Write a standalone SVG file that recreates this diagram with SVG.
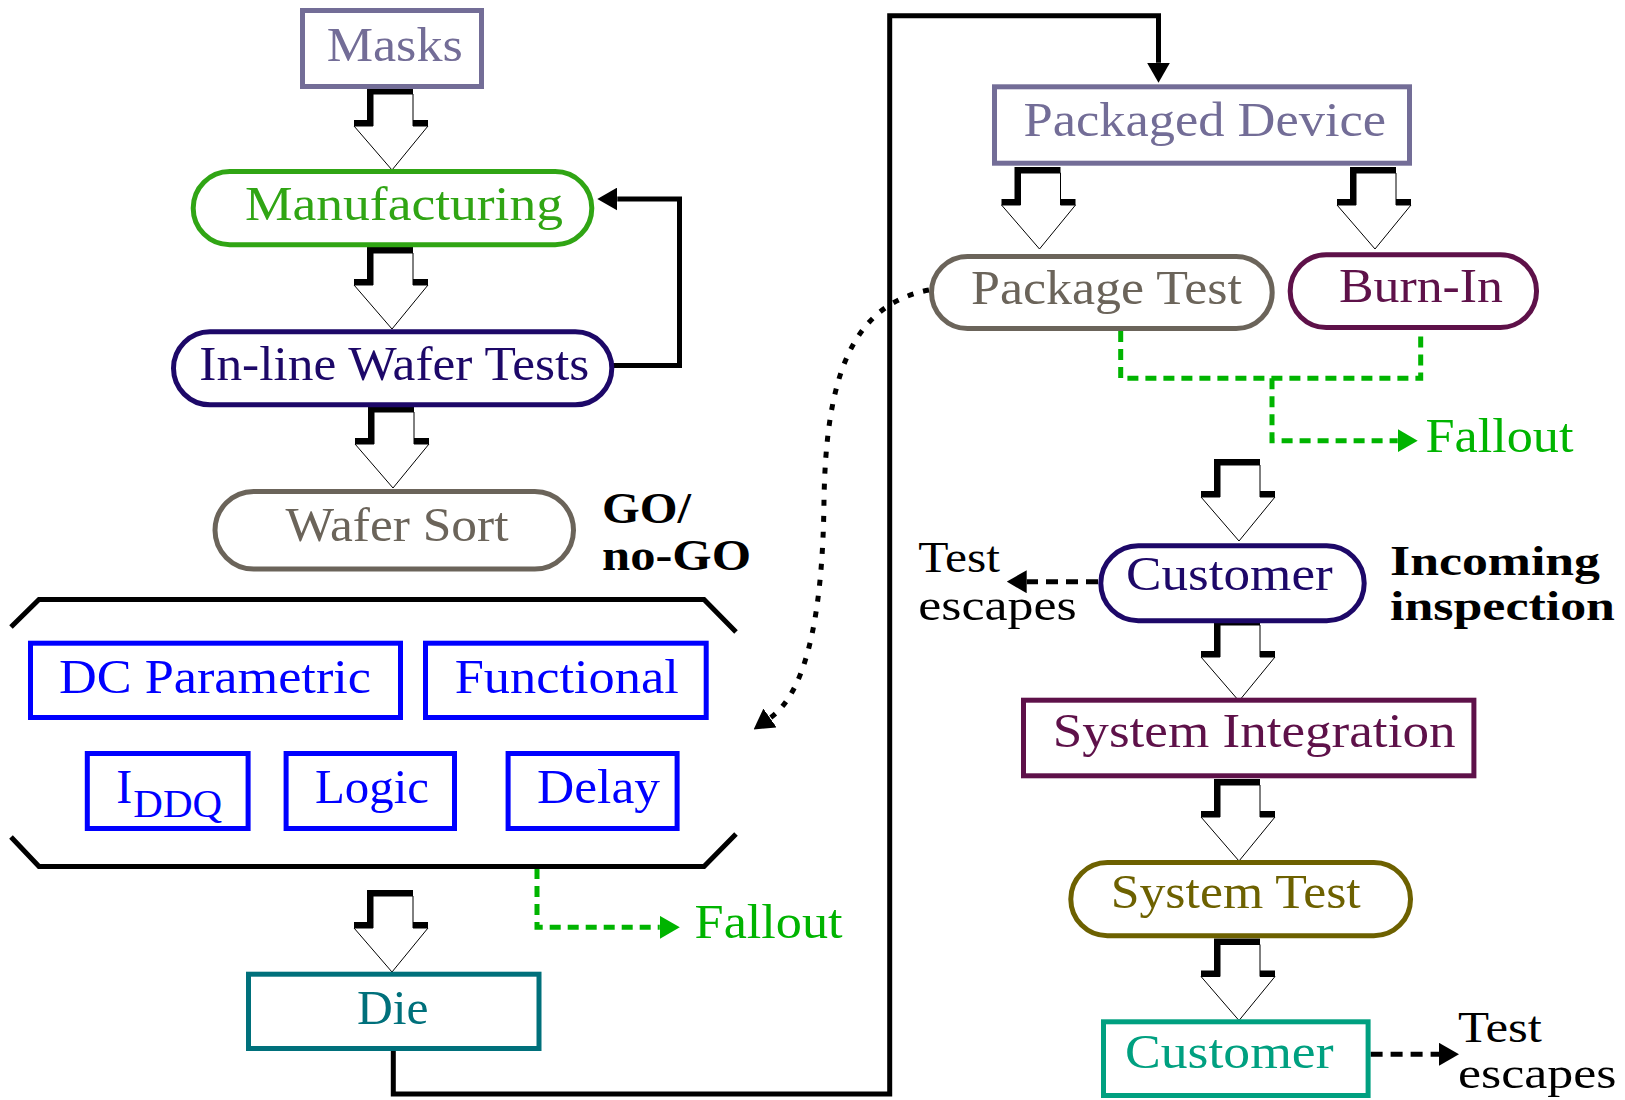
<svg xmlns="http://www.w3.org/2000/svg" xmlns:xlink="http://www.w3.org/1999/xlink" width="1625" height="1100" viewBox="0 0 1625 1100">
<style>
.box{fill:#fff;stroke-width:5}
.t{font-family:"Liberation Serif","Times New Roman",serif;font-size:48px}
.s{font-size:45px}
.s2{font-size:42px}
.b{font-weight:bold;fill:#000}
.conn{fill:none;stroke:#000;stroke-width:5}
.gd{fill:none;stroke:#00b400;stroke-width:5;stroke-dasharray:11 7}
.kd{fill:none;stroke:#000;stroke-width:5;stroke-dasharray:12 8}
.dot{fill:none;stroke:#000;stroke-width:5;stroke-dasharray:6 10}
.c1{stroke:#736d97}.f1{fill:#736d97}
.c2{stroke:#30a514}.f2{fill:#30a514}
.c3{stroke:#1d0868}.f3{fill:#1d0868}
.c4{stroke:#6b645a}.f4{fill:#6b645a}
.c5{stroke:#0000ff}.f5{fill:#0000ff}
.c6{stroke:#00707b}.f6{fill:#00707b}
.c7{stroke:#5e1149}.f7{fill:#5e1149}
.c8{stroke:#6d6100}.f8{fill:#6d6100}
.c9{stroke:#00a080}.f9{fill:#00a080}
.fg{fill:#00b400}
</style>
<defs>
<marker id="ahk" viewBox="0 0 20 23" refX="0" refY="11.5" markerWidth="20" markerHeight="23" markerUnits="userSpaceOnUse" orient="auto"><path d="M0,0 L20,11.5 L0,23 Z" fill="#000"/></marker>
<marker id="ahg" viewBox="0 0 20 23" refX="0" refY="11.5" markerWidth="20" markerHeight="23" markerUnits="userSpaceOnUse" orient="auto"><path d="M0,0 L20,11.5 L0,23 Z" fill="#00b400"/></marker>
<g id="bigarrow">
<path d="M-18,6 H22 V38 H37 L1,82 L-37,38 H-18 Z" fill="#fff" stroke="#000" stroke-width="1"/>
<path d="M-37,35 H-21 V3 H22" fill="none" stroke="#000" stroke-width="6"/>
<path d="M22,35 H37" fill="none" stroke="#000" stroke-width="6"/>
</g>
</defs>
<rect width="1625" height="1100" fill="#fff"/>

<g id="connectors">
<use xlink:href="#bigarrow" x="391" y="88"/>
<use xlink:href="#bigarrow" x="391" y="247"/>
<use xlink:href="#bigarrow" x="392" y="406"/>
<use xlink:href="#bigarrow" x="391" y="890"/>
<use xlink:href="#bigarrow" x="1038.5" y="167"/>
<use xlink:href="#bigarrow" x="1374" y="167"/>
<use xlink:href="#bigarrow" x="1238" y="459"/>
<use xlink:href="#bigarrow" x="1238" y="619"/>
<use xlink:href="#bigarrow" x="1238" y="779"/>
<use xlink:href="#bigarrow" x="1238" y="938.5"/>
<path class="conn" d="M610,365.5 H679.5 V199 H617.3" marker-end="url(#ahk)"/>
<path class="conn" d="M393.3,1051 V1094 H889.7 V15.7 H1158.5 V62.7" marker-end="url(#ahk)"/>
<path class="dot" d="M929,290 C850,305 826,380 824,500 C823,600 810,690 770,718" marker-end="url(#ahk)"/>
<path class="gd" d="M537,868 V927.3 H659.8" marker-end="url(#ahg)"/>
<path class="gd" d="M1120.7,331 V378.3 H1420.7 V330"/>
<path class="gd" d="M1272,378.3 V440.7 H1397.7" marker-end="url(#ahg)"/>
<path class="kd" d="M1098,581.7 H1026.7" marker-end="url(#ahk)"/>
<path class="kd" d="M1370.6,1054.3 H1439" marker-end="url(#ahk)"/>
</g>

<g id="masks">
<rect class="box c1" x="302.5" y="10.5" width="179" height="76"/>
<text class="t f1" x="326.7" y="61" textLength="136" lengthAdjust="spacingAndGlyphs">Masks</text>
</g>
<g id="manufacturing">
<rect class="box c2" x="193.2" y="171.5" width="398.6" height="73.3" rx="36.6"/>
<text class="t f2" x="245" y="220" textLength="318" lengthAdjust="spacingAndGlyphs">Manufacturing</text>
</g>
<g id="inline-wafer-tests">
<rect class="box c3" x="173.5" y="331.8" width="438.3" height="73" rx="36.5"/>
<text class="t f3" x="199.3" y="380" textLength="390" lengthAdjust="spacingAndGlyphs">In-line Wafer Tests</text>
</g>
<g id="wafer-sort">
<rect class="box c4" x="215" y="491.5" width="358.5" height="77.5" rx="38.7"/>
<text class="t f4" x="285.5" y="541" textLength="223" lengthAdjust="spacingAndGlyphs">Wafer Sort</text>
</g>
<g id="go-nogo-label">
<text class="t s b" x="602" y="523.3" textLength="89" lengthAdjust="spacingAndGlyphs">GO/</text>
<text class="t s b" x="602" y="570" textLength="149" lengthAdjust="spacingAndGlyphs">no-GO</text>
</g>
<g id="wafer-tests">
<path class="conn" d="M11,627 L39,599.5 H704 L736,632"/>
<path class="conn" d="M11,837 L39,866.5 H704 L736,834"/>
<g id="dc-parametric">
<rect class="box c5" x="30.5" y="643.2" width="370" height="74.3"/>
<text class="t f5" x="59" y="692.7" textLength="312" lengthAdjust="spacingAndGlyphs">DC Parametric</text>
</g>
<g id="functional">
<rect class="box c5" x="425.5" y="643.2" width="280.7" height="74.3"/>
<text class="t f5" x="454.7" y="692.7" textLength="224" lengthAdjust="spacingAndGlyphs">Functional</text>
</g>
<g id="iddq">
<rect class="box c5" x="87.3" y="753.5" width="160.8" height="75"/>
<text class="t f5" x="116.3" y="803.3">I<tspan x="133.3" y="816.7" font-size="41">DDQ</tspan></text>
</g>
<g id="logic">
<rect class="box c5" x="286.1" y="753.5" width="168.4" height="75"/>
<text class="t f5" x="315" y="803.3" textLength="114" lengthAdjust="spacingAndGlyphs">Logic</text>
</g>
<g id="delay">
<rect class="box c5" x="508.1" y="753.5" width="169" height="75"/>
<text class="t f5" x="537" y="803.3" textLength="123" lengthAdjust="spacingAndGlyphs">Delay</text>
</g>
</g>
<g id="fallout-1">
<text class="t fg" x="694.6" y="938.3" textLength="148" lengthAdjust="spacingAndGlyphs">Fallout</text>
</g>
<g id="die">
<rect class="box c6" x="248.5" y="974.2" width="290.5" height="74.3"/>
<text class="t f6" x="357" y="1024.3" textLength="71.6" lengthAdjust="spacingAndGlyphs">Die</text>
</g>
<g id="packaged-device">
<rect class="box c1" x="994.5" y="86.8" width="415" height="76.4"/>
<text class="t f1" x="1023.5" y="136" textLength="362.5" lengthAdjust="spacingAndGlyphs">Packaged Device</text>
</g>
<g id="package-test">
<rect class="box c4" x="931.5" y="256.5" width="340.7" height="72" rx="36"/>
<text class="t f4" x="971" y="304" textLength="271" lengthAdjust="spacingAndGlyphs">Package Test</text>
</g>
<g id="burn-in">
<rect class="box c7" x="1290.2" y="254.8" width="246.3" height="72.7" rx="36"/>
<text class="t f7" x="1339" y="302.3" textLength="164" lengthAdjust="spacingAndGlyphs">Burn-In</text>
</g>
<g id="fallout-2">
<text class="t fg" x="1425.5" y="452" textLength="148" lengthAdjust="spacingAndGlyphs">Fallout</text>
</g>
<g id="test-escapes-1">
<text class="t s" x="918.3" y="571.7" textLength="81.7" lengthAdjust="spacingAndGlyphs">Test</text>
<text class="t s" x="918.3" y="620" textLength="158.4" lengthAdjust="spacingAndGlyphs">escapes</text>
</g>
<g id="customer-1">
<rect class="box c3" x="1100.8" y="545.8" width="263.4" height="75" rx="37.5"/>
<text class="t f3" x="1126" y="590" textLength="206.7" lengthAdjust="spacingAndGlyphs">Customer</text>
</g>
<g id="incoming-inspection-label">
<text class="t s2 b" x="1390" y="575" textLength="210" lengthAdjust="spacingAndGlyphs">Incoming</text>
<text class="t s2 b" x="1390" y="620" textLength="225" lengthAdjust="spacingAndGlyphs">inspection</text>
</g>
<g id="system-integration">
<rect class="box c7" x="1023.5" y="700.2" width="450.4" height="75.6"/>
<text class="t f7" x="1052.8" y="746.7" textLength="402.7" lengthAdjust="spacingAndGlyphs">System Integration</text>
</g>
<g id="system-test">
<rect class="box c8" x="1070.8" y="862.5" width="339.7" height="73.3" rx="36.6"/>
<text class="t f8" x="1110.7" y="908.3" textLength="250" lengthAdjust="spacingAndGlyphs">System Test</text>
</g>
<g id="customer-2">
<rect class="box c9" x="1103.5" y="1021.8" width="264.6" height="73.7"/>
<text class="t f9" x="1125" y="1068.3" textLength="208.5" lengthAdjust="spacingAndGlyphs">Customer</text>
</g>
<g id="test-escapes-2">
<text class="t s" x="1458" y="1041.7" textLength="84" lengthAdjust="spacingAndGlyphs">Test</text>
<text class="t s" x="1458" y="1088.3" textLength="158.5" lengthAdjust="spacingAndGlyphs">escapes</text>
</g>
</svg>
